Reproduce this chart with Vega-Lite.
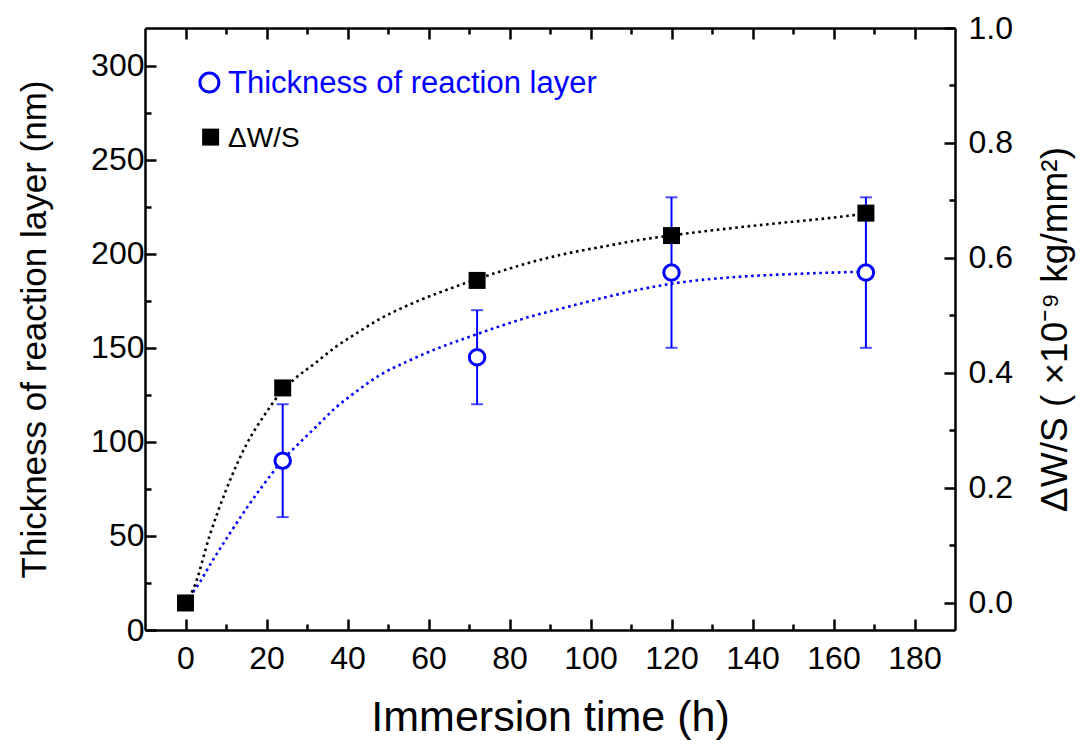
{
  "$schema": "https://vega.github.io/schema/vega-lite/v6.json",
  "width": 810,
  "height": 602,
  "autosize": {"type": "none"},
  "padding": {"left": 145, "top": 28, "right": 136, "bottom": 119},
  "background": "white",
  "config": {
    "view": {"stroke": null},
    "font": "Liberation Sans",
    "axis": {
      "grid": false,
      "domainColor": "black",
      "domainWidth": 2.5,
      "tickColor": "black",
      "tickWidth": 2.5,
      "labelColor": "black",
      "labelFont": "Liberation Sans",
      "labelFontSize": 32,
      "titleFont": "Liberation Sans",
      "titleFontWeight": "normal",
      "titleColor": "black"
    }
  },
  "datasets": {
    "thickness": [
      {"t": 0, "th": 15, "lo": null, "hi": null},
      {"t": 24, "th": 90, "lo": 60, "hi": 120},
      {"t": 72, "th": 145, "lo": 120, "hi": 170},
      {"t": 120, "th": 190, "lo": 150, "hi": 230},
      {"t": 168, "th": 190, "lo": 150, "hi": 230}
    ],
    "dws": [
      {"t": 0, "w": 0.0},
      {"t": 24, "w": 0.374},
      {"t": 72, "w": 0.561},
      {"t": 120, "w": 0.639},
      {"t": 168, "w": 0.678}
    ],
    "thicknessFit": [
      {"t": 0, "th": 15}, {"t": 2.5, "th": 22}, {"t": 7, "th": 38}, {"t": 11, "th": 51.5},
      {"t": 15, "th": 64.5}, {"t": 19, "th": 76.5}, {"t": 22, "th": 85}, {"t": 24, "th": 90.5},
      {"t": 27, "th": 97}, {"t": 32, "th": 107.5}, {"t": 37, "th": 118}, {"t": 42, "th": 126.5},
      {"t": 48, "th": 135.5}, {"t": 55, "th": 143}, {"t": 62, "th": 149.5}, {"t": 69, "th": 155},
      {"t": 77, "th": 161}, {"t": 85, "th": 166.5}, {"t": 93, "th": 171}, {"t": 104, "th": 177},
      {"t": 111, "th": 180.5}, {"t": 123, "th": 185}, {"t": 135, "th": 187.5}, {"t": 151, "th": 189.3},
      {"t": 168, "th": 190.5}
    ],
    "dwsFit": [
      {"t": 0, "w": 0.0}, {"t": 2, "w": 0.025}, {"t": 6, "w": 0.118}, {"t": 10, "w": 0.196},
      {"t": 15, "w": 0.275}, {"t": 20, "w": 0.332}, {"t": 24, "w": 0.37}, {"t": 27, "w": 0.39},
      {"t": 32, "w": 0.417}, {"t": 37, "w": 0.445}, {"t": 42, "w": 0.468}, {"t": 48, "w": 0.494},
      {"t": 55, "w": 0.518}, {"t": 62, "w": 0.538}, {"t": 69, "w": 0.556}, {"t": 77, "w": 0.575},
      {"t": 85, "w": 0.592}, {"t": 93, "w": 0.606}, {"t": 104, "w": 0.621}, {"t": 111, "w": 0.63},
      {"t": 123, "w": 0.642}, {"t": 135, "w": 0.652}, {"t": 147, "w": 0.661}, {"t": 157, "w": 0.668},
      {"t": 168, "w": 0.677}
    ],
    "legendRow": [{"series": "legend"}]
  },
  "resolve": {"scale": {"y": "independent"}},
  "layer": [
    {
      "layer": [
        {
          "data": {"name": "thickness"},
          "transform": [{"filter": "datum.lo != null"}],
          "mark": {"type": "rule", "color": "#0000FF", "strokeWidth": 2},
          "encoding": {
            "x": {
              "field": "t", "type": "quantitative",
              "scale": {"domain": [-10, 190], "nice": false, "zero": false},
              "axis": {
                "orient": "bottom",
                "values": [0, 10, 20, 30, 40, 50, 60, 70, 80, 90, 100, 110, 120, 130, 140, 150, 160, 170, 180],
                "labelExpr": "datum.value % 20 === 0 ? datum.label : ''",
                "tickSize": {"condition": {"test": "datum.value % 20 === 0", "value": -11}, "value": -6},
                "labelPadding": 24,
                "title": "Immersion time (h)",
                "titleFontSize": 43,
                "titlePadding": 22
              }
            },
            "y": {
              "field": "lo", "type": "quantitative",
              "scale": {"domain": [0, 320], "nice": false, "zero": false},
              "axis": {
                "orient": "left",
                "values": [0, 25, 50, 75, 100, 125, 150, 175, 200, 225, 250, 275, 300],
                "labelExpr": "datum.value % 50 === 0 ? datum.label : ''",
                "tickSize": {"condition": {"test": "datum.value % 50 === 0", "value": -11}, "value": -6},
                "labelPadding": 12,
                "title": "Thickness of reaction layer (nm)",
                "titleFontSize": 35,
                "titlePadding": 38
              }
            },
            "y2": {"field": "hi"}
          }
        },
        {
          "data": {"name": "thickness"},
          "transform": [{"filter": "datum.lo != null"}],
          "mark": {"type": "tick", "orient": "horizontal", "color": "#0000FF", "size": 12, "thickness": 2},
          "encoding": {
            "x": {"field": "t", "type": "quantitative", "axis": null},
            "y": {"field": "lo", "type": "quantitative"}
          }
        },
        {
          "data": {"name": "thickness"},
          "transform": [{"filter": "datum.lo != null"}],
          "mark": {"type": "tick", "orient": "horizontal", "color": "#0000FF", "size": 12, "thickness": 2},
          "encoding": {
            "x": {"field": "t", "type": "quantitative", "axis": null},
            "y": {"field": "hi", "type": "quantitative"}
          }
        },
        {
          "data": {"name": "thicknessFit"},
          "mark": {"type": "line", "color": "#0000FF", "strokeWidth": 2.6, "strokeDash": [2.6, 3.6], "interpolate": "monotone"},
          "encoding": {
            "x": {
              "field": "t", "type": "quantitative",
              "axis": {
                "orient": "top",
                "values": [0, 10, 20, 30, 40, 50, 60, 70, 80, 90, 100, 110, 120, 130, 140, 150, 160, 170, 180],
                "labels": false,
                "title": null,
                "tickSize": {"condition": {"test": "datum.value % 20 === 0", "value": -11}, "value": -6}
              }
            },
            "y": {"field": "th", "type": "quantitative"}
          }
        },
        {
          "data": {"name": "thickness"},
          "transform": [{"filter": "datum.lo != null"}],
          "mark": {"type": "point", "shape": "circle", "filled": true, "fill": "white", "stroke": "#0000FF", "strokeWidth": 3, "size": 240, "opacity": 1},
          "encoding": {
            "x": {"field": "t", "type": "quantitative", "axis": null},
            "y": {"field": "th", "type": "quantitative"}
          }
        },
        {
          "data": {"name": "legendRow"},
          "mark": {"type": "point", "shape": "circle", "filled": true, "fill": "white", "stroke": "#0000FF", "strokeWidth": 3, "size": 360, "opacity": 1},
          "encoding": {
            "x": {"datum": 5.9, "type": "quantitative", "axis": null},
            "y": {"datum": 291, "type": "quantitative"}
          }
        },
        {
          "data": {"name": "legendRow"},
          "mark": {"type": "text", "text": "Thickness of reaction layer", "color": "#0000FF", "fontSize": 31, "align": "left", "baseline": "middle", "font": "Liberation Sans"},
          "encoding": {
            "x": {"datum": 10.5, "type": "quantitative", "axis": null},
            "y": {"datum": 290, "type": "quantitative"}
          }
        },
        {
          "data": {"name": "legendRow"},
          "mark": {"type": "point", "shape": "square", "filled": true, "color": "black", "size": 289, "opacity": 1},
          "encoding": {
            "x": {"datum": 6.2, "type": "quantitative", "axis": null},
            "y": {"datum": 262, "type": "quantitative"}
          }
        },
        {
          "data": {"name": "legendRow"},
          "mark": {"type": "text", "text": "ΔW/S", "color": "black", "fontSize": 28, "align": "left", "baseline": "middle", "font": "Liberation Sans"},
          "encoding": {
            "x": {"datum": 10.5, "type": "quantitative", "axis": null},
            "y": {"datum": 261, "type": "quantitative"}
          }
        }
      ]
    },
    {
      "layer": [
        {
          "data": {"name": "dwsFit"},
          "mark": {"type": "line", "color": "black", "strokeWidth": 2.6, "strokeDash": [2.6, 3.6], "interpolate": "monotone"},
          "encoding": {
            "x": {"field": "t", "type": "quantitative", "axis": null},
            "y": {
              "field": "w", "type": "quantitative",
              "scale": {"domain": [-0.047, 1.0], "nice": false, "zero": false},
              "axis": {
                "orient": "right",
                "values": [0, 0.1, 0.2, 0.3, 0.4, 0.5, 0.6, 0.7, 0.8, 0.9, 1.0],
                "format": ".1f",
                "labelExpr": "round(datum.value * 10) % 2 === 0 ? datum.label : ''",
                "tickSize": {"condition": {"test": "round(datum.value * 10) % 2 === 0", "value": -11}, "value": -6},
                "labelPadding": 24,
                "title": "ΔW/S ( ×10⁻⁹ kg/mm²)",
                "titleFontSize": 37,
                "titleAngle": 270,
                "titlePadding": 62
              }
            }
          }
        },
        {
          "data": {"name": "dws"},
          "mark": {"type": "point", "shape": "square", "filled": true, "color": "black", "size": 289, "opacity": 1},
          "encoding": {
            "x": {"field": "t", "type": "quantitative", "axis": null},
            "y": {"field": "w", "type": "quantitative"}
          }
        }
      ]
    }
  ]
}
